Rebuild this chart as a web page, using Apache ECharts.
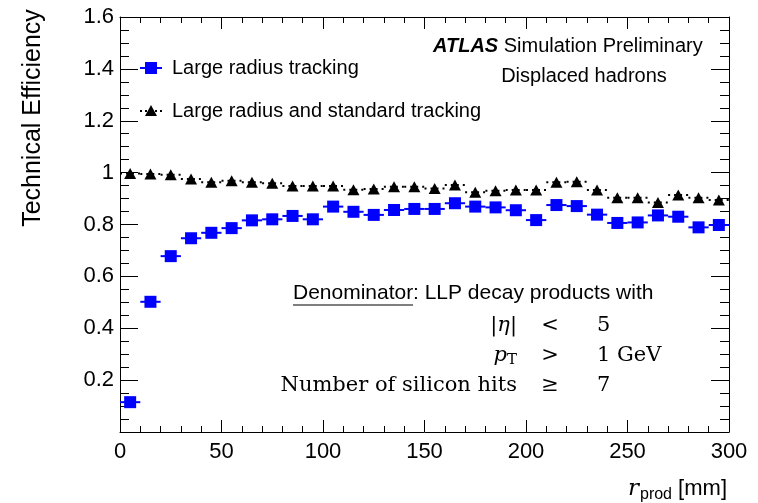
<!DOCTYPE html>
<html>
<head>
<meta charset="utf-8">
<script src="https://cdn.jsdelivr.net/npm/echarts@6/dist/echarts.min.js"></script>
<style>
html,body{margin:0;padding:0;background:#fff;}
#chart{width:758px;height:503px;}
</style>
</head>
<body>
<div id="chart"></div>
<script>
// ---- data ----
const rCenters = [5,15,25,35,45,55,65,75,85,95,105,115,125,135,145,155,165,175,185,195,205,215,225,235,245,255,265,275,285,295];
const binHalfWidth = 5;
const lrtEff = [0.115,0.502,0.678,0.747,0.768,0.786,0.816,0.820,0.833,0.820,0.869,0.849,0.837,0.856,0.860,0.860,0.882,0.869,0.866,0.855,0.817,0.875,0.871,0.838,0.806,0.808,0.835,0.830,0.789,0.798];
const lrtStdEff = [0.997,0.995,0.992,0.975,0.963,0.969,0.963,0.959,0.948,0.948,0.948,0.934,0.937,0.946,0.946,0.939,0.952,0.924,0.930,0.933,0.933,0.963,0.965,0.933,0.903,0.903,0.885,0.914,0.903,0.894];
const xTicks = [0,50,100,150,200,250,300];
const yTicks = [0.2,0.4,0.6,0.8,1,1.2,1.4,1.6];
const seriesNames = ['Large radius tracking','Large radius and standard tracking'];

const FONT = 'Liberation Sans, Arial, Helvetica, sans-serif';
const SERIF = 'DejaVu Serif, Liberation Serif, serif';

const blueData = rCenters.map((r,i)=>[r,lrtEff[i]]);
const blackData = rCenters.map((r,i)=>[r,lrtStdEff[i]]);

function hbar(color, dash, width){
  return function(params, api){
    const x = api.value(0), y = api.value(1);
    const p1 = api.coord([x-binHalfWidth, y]);
    const p2 = api.coord([x+binHalfWidth, y]);
    return {type:'line', shape:{x1:p1[0],y1:p1[1],x2:p2[0],y2:p2[1]},
      style:{stroke:color, lineWidth:width, lineDash:dash}};
  };
}

const chart = echarts.init(document.getElementById('chart'), null, {renderer:'canvas'});
const axisCommonX = {
  type:'value', min:xTicks[0], max:xTicks[xTicks.length-1], interval:50,
  axisLine:{show:true,onZero:false,lineStyle:{color:'#000',width:1}},
  axisTick:{show:true,inside:true,length:12,lineStyle:{color:'#000',width:1}},
  minorTick:{show:true,splitNumber:5,length:6,lineStyle:{color:'#000',width:1}},
  splitLine:{show:false}, minorSplitLine:{show:false}
};
const axisCommonY = {
  type:'value', min:0, max:yTicks[yTicks.length-1], interval:0.2,
  axisLine:{show:true,onZero:false,lineStyle:{color:'#000',width:1}},
  axisTick:{show:true,inside:true,length:18,lineStyle:{color:'#000',width:1}},
  minorTick:{show:true,splitNumber:4,length:9,lineStyle:{color:'#000',width:1}},
  splitLine:{show:false}, minorSplitLine:{show:false}
};

chart.setOption({
  animation:false,
  backgroundColor:'#fff',
  grid:{left:120,right:29,top:17,bottom:71,containLabel:false},
  xAxis:[
    Object.assign({}, axisCommonX, {position:'bottom',
      axisLabel:{show:true,color:'#000',fontSize:22,fontFamily:FONT,margin:9}}),
    Object.assign({}, axisCommonX, {position:'top', axisLabel:{show:false}})
  ],
  yAxis:[
    Object.assign({}, axisCommonY, {position:'left',
      axisLabel:{show:true,color:'#000',fontSize:22,fontFamily:FONT,margin:6,
        formatter:v=>{const n=Number(v.toFixed(1)); return yTicks.indexOf(n)>=0?String(n):'';}}}),
    Object.assign({}, axisCommonY, {position:'right', axisLabel:{show:false}})
  ],
  series:[
    {name:seriesNames[1]+' bars', type:'custom', xAxisIndex:0, yAxisIndex:0, data:blackData,
      renderItem:hbar('#000',[2,4],2), z:2},
    {name:seriesNames[1], type:'scatter', xAxisIndex:0, yAxisIndex:0, data:blackData,
      symbol:'triangle', symbolSize:[12,11], itemStyle:{color:'#000',opacity:1}, z:3},
    {name:seriesNames[0]+' bars', type:'custom', xAxisIndex:0, yAxisIndex:0, data:blueData,
      renderItem:hbar('#0000ff',null,2), z:4},
    {name:seriesNames[0], type:'scatter', xAxisIndex:0, yAxisIndex:0, data:blueData,
      symbol:'rect', symbolSize:12, itemStyle:{color:'#0000ff',opacity:1}, z:5}
  ],
  graphic:[
    // y-axis title
    {type:'text', x:33, y:118, rotation:Math.PI/2,
      style:{text:'Technical Efficiency', font:'25px '+FONT, fill:'#000', align:'center', verticalAlign:'middle'}},
    // x-axis title
    {type:'text', x:727, y:489,
      style:{text:'{r|r}{s|prod}{t| [mm]}', align:'right', verticalAlign:'middle',
        rich:{r:{font:'italic 23px '+SERIF, fill:'#000'},
              s:{font:'16px '+FONT, fill:'#000', padding:[12,0,0,1]},
              t:{font:'22px '+FONT, fill:'#000'}}}},
    // legend
    {type:'line', shape:{x1:140,y1:68,x2:162,y2:68}, style:{stroke:'#0000ff',lineWidth:2}},
    {type:'rect', shape:{x:145,y:62,width:12,height:12}, style:{fill:'#0000ff'}},
    {type:'text', x:172, y:68, style:{text:seriesNames[0], font:'20px '+FONT, fill:'#000', verticalAlign:'middle'}},
    {type:'line', shape:{x1:140,y1:111,x2:162,y2:111}, style:{stroke:'#000',lineWidth:2,lineDash:[2,3]}},
    {type:'polygon', shape:{points:[[151,105],[157,116],[145,116]]}, style:{fill:'#000'}},
    {type:'text', x:172, y:111, style:{text:seriesNames[1], font:'20px '+FONT, fill:'#000', verticalAlign:'middle'}},
    // ATLAS label
    {type:'text', x:433, y:46, style:{text:'{a|ATLAS}{b| Simulation Preliminary}', verticalAlign:'middle',
      rich:{a:{font:'italic bold 20px '+FONT, fill:'#000'}, b:{font:'20px '+FONT, fill:'#000'}}}},
    {type:'text', x:584, y:76, style:{text:'Displaced hadrons', font:'20px '+FONT, fill:'#000', align:'center', verticalAlign:'middle'}},
    // Denominator text
    {type:'text', x:293, y:293, style:{text:'Denominator', font:'21px '+FONT, fill:'#000', verticalAlign:'middle'}},
    {type:'line', shape:{x1:293,y1:305,x2:413,y2:305}, style:{stroke:'#000',lineWidth:1}},
    {type:'text', x:413, y:293, style:{text:': LLP decay products with', font:'21px '+FONT, fill:'#000', verticalAlign:'middle'}},
    {type:'text', x:517, y:326, style:{text:'|{i|η}|', font:'21px '+SERIF, fill:'#000', align:'right', verticalAlign:'middle',
      rich:{i:{font:'italic 21px '+SERIF, fill:'#000'}}}},
    {type:'text', x:550, y:326, style:{text:'<', font:'21px '+SERIF, fill:'#000', align:'center', verticalAlign:'middle'}},
    {type:'text', x:597, y:326, style:{text:'5', font:'21px '+SERIF, fill:'#000', verticalAlign:'middle'}},
    {type:'text', x:517, y:356, style:{text:'{p|p}{t|T}', align:'right', verticalAlign:'middle',
      rich:{p:{font:'italic 21px '+SERIF, fill:'#000'}, t:{font:'15px '+SERIF, fill:'#000', padding:[8,0,0,0]}}}},
    {type:'text', x:550, y:356, style:{text:'>', font:'21px '+SERIF, fill:'#000', align:'center', verticalAlign:'middle'}},
    {type:'text', x:597, y:356, style:{text:'1 GeV', font:'21px '+SERIF, fill:'#000', verticalAlign:'middle'}},
    {type:'text', x:517, y:386, style:{text:'Number of silicon hits', font:'21px '+SERIF, fill:'#000', align:'right', verticalAlign:'middle'}},
    {type:'text', x:550, y:386, style:{text:'≥', font:'21px '+SERIF, fill:'#000', align:'center', verticalAlign:'middle'}},
    {type:'text', x:597, y:386, style:{text:'7', font:'21px '+SERIF, fill:'#000', verticalAlign:'middle'}}
  ]
});
</script>
</body>
</html>
